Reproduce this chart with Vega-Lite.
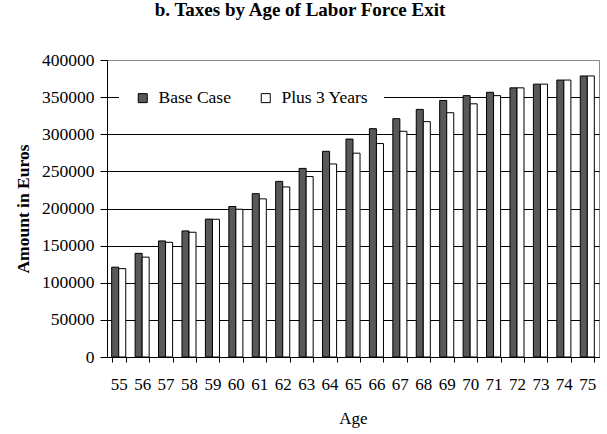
{
  "$schema": "https://vega.github.io/schema/vega-lite/v6.json",
  "autosize": {"type": "none"},
  "padding": {"left": 107, "top": 60, "right": 8, "bottom": 77},
  "width": 492,
  "height": 297,
  "background": "white",
  "title": {"text": "b. Taxes by Age of Labor Force Exit", "font": "Liberation Serif", "fontSize": 19, "fontWeight": "bold", "color": "black", "offset": 31, "anchor": "middle", "dx": -53},
  "config": {
    "view": {"stroke": "#888888", "strokeWidth": 1},
    "axis": {"labelFont": "Liberation Serif", "titleFont": "Liberation Serif", "labelColor": "black", "titleColor": "black"},
    "legend": {"labelFont": "Liberation Serif"}
  },
  "data": {"values": [
    {"age": 55, "series": "Base Case", "amount": 121000},
    {"age": 55, "series": "Plus 3 Years", "amount": 119000},
    {"age": 56, "series": "Base Case", "amount": 139600},
    {"age": 56, "series": "Plus 3 Years", "amount": 134500},
    {"age": 57, "series": "Base Case", "amount": 156300},
    {"age": 57, "series": "Plus 3 Years", "amount": 154500},
    {"age": 58, "series": "Base Case", "amount": 169800},
    {"age": 58, "series": "Plus 3 Years", "amount": 168000},
    {"age": 59, "series": "Base Case", "amount": 185700},
    {"age": 59, "series": "Plus 3 Years", "amount": 185500},
    {"age": 60, "series": "Base Case", "amount": 202700},
    {"age": 60, "series": "Plus 3 Years", "amount": 199000},
    {"age": 61, "series": "Base Case", "amount": 220000},
    {"age": 61, "series": "Plus 3 Years", "amount": 213000},
    {"age": 62, "series": "Base Case", "amount": 236500},
    {"age": 62, "series": "Plus 3 Years", "amount": 229000},
    {"age": 63, "series": "Base Case", "amount": 254000},
    {"age": 63, "series": "Plus 3 Years", "amount": 243000},
    {"age": 64, "series": "Base Case", "amount": 277000},
    {"age": 64, "series": "Plus 3 Years", "amount": 260000},
    {"age": 65, "series": "Base Case", "amount": 293500},
    {"age": 65, "series": "Plus 3 Years", "amount": 274500},
    {"age": 66, "series": "Base Case", "amount": 307500},
    {"age": 66, "series": "Plus 3 Years", "amount": 287500},
    {"age": 67, "series": "Base Case", "amount": 321000},
    {"age": 67, "series": "Plus 3 Years", "amount": 304000},
    {"age": 68, "series": "Base Case", "amount": 333500},
    {"age": 68, "series": "Plus 3 Years", "amount": 317000},
    {"age": 69, "series": "Base Case", "amount": 345500},
    {"age": 69, "series": "Plus 3 Years", "amount": 329000},
    {"age": 70, "series": "Base Case", "amount": 352000},
    {"age": 70, "series": "Plus 3 Years", "amount": 341000},
    {"age": 71, "series": "Base Case", "amount": 356500},
    {"age": 71, "series": "Plus 3 Years", "amount": 352000},
    {"age": 72, "series": "Base Case", "amount": 362500},
    {"age": 72, "series": "Plus 3 Years", "amount": 362500},
    {"age": 73, "series": "Base Case", "amount": 367500},
    {"age": 73, "series": "Plus 3 Years", "amount": 367500},
    {"age": 74, "series": "Base Case", "amount": 373000},
    {"age": 74, "series": "Plus 3 Years", "amount": 373000},
    {"age": 75, "series": "Base Case", "amount": 378500},
    {"age": 75, "series": "Plus 3 Years", "amount": 378500}
  ]},
  "mark": {"type": "bar", "stroke": "black", "strokeWidth": 1},
  "encoding": {
    "x": {
      "field": "age", "type": "ordinal", "title": "Age",
      "scale": {"paddingInner": 0.4, "paddingOuter": 0.2},
      "axis": {"labelAngle": 0, "tickBand": "extent", "tickSize": 5, "tickColor": "black", "domainColor": "black", "labelFontSize": 17, "labelPadding": 14, "titleFontSize": 17, "titlePadding": 18, "titleFontWeight": "normal", "grid": false}
    },
    "xOffset": {"field": "series", "type": "nominal", "sort": ["Base Case", "Plus 3 Years"], "scale": {"paddingInner": 0, "paddingOuter": 0}},
    "y": {
      "field": "amount", "type": "quantitative", "title": "Amount in Euros",
      "scale": {"domain": [0, 400000], "nice": false},
      "axis": {"values": [0, 50000, 100000, 150000, 200000, 250000, 300000, 350000, 400000], "format": "d", "tickSize": 7, "tickColor": "black", "domainColor": "black", "labelFontSize": 17.5, "labelPadding": 6, "titleFontSize": 17.5, "titlePadding": 9, "titleFontWeight": "bold",
        "grid": true, "gridColor": {"condition": {"test": "datum.value == 400000", "value": "#888888"}, "value": "black"}, "gridOpacity": 1}
    },
    "color": {
      "field": "series", "type": "nominal", "sort": ["Base Case", "Plus 3 Years"],
      "scale": {"domain": ["Base Case", "Plus 3 Years"], "range": ["#595959", "#ffffff"]},
      "legend": {"title": null, "orient": "none", "direction": "horizontal", "legendX": 12, "legendY": 14, "padding": 15, "fillColor": "white", "symbolType": "square", "symbolSize": 81, "symbolStrokeColor": "black", "symbolStrokeWidth": 1, "symbolOpacity": 1, "labelFontSize": 17.5, "labelColor": "black", "labelOffset": 7, "columnPadding": 26}
    }
  }
}
